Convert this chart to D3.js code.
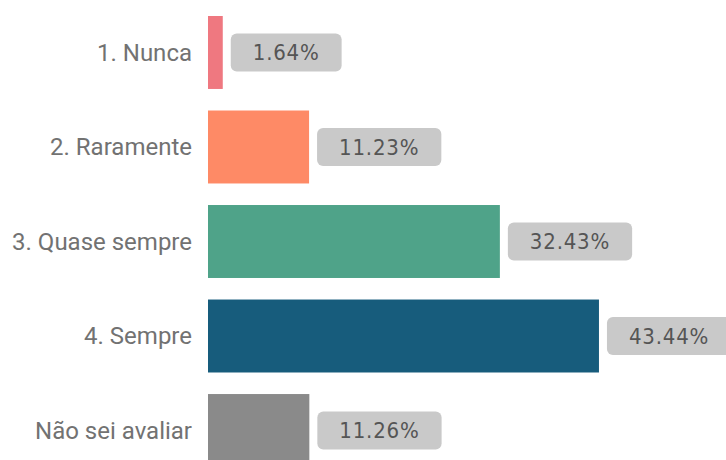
<!DOCTYPE html>
<html>
<head>
<meta charset="utf-8">
<script src="https://cdn.jsdelivr.net/npm/d3@7"></script>
<style>
  body { margin: 0; background: #fff; }
  svg { display: block; }
</style>
</head>
<body>
<svg width="726" height="460"></svg>
<script>
const categories = ['1. Nunca', '2. Raramente', '3. Quase sempre', '4. Sempre', 'Não sei avaliar'];
const values = [1.64, 11.23, 32.43, 43.44, 11.26];
const colors = ['#ef7880', '#fe8a66', '#4fa389', '#175c7c', '#8a8a8a'];

const svg = d3.select('svg');

const x = d3.scaleLinear().domain([0, 50]).range([208, 658]);
const y = d3.scaleBand().domain(categories).range([16, 467])
    .paddingInner(0.228).paddingOuter(0);

const rows = categories.map((c, i) => ({ cat: c, val: values[i], color: colors[i] }));

// category labels
svg.append('g').selectAll('text').data(rows)
    .enter().append('text')
    .attr('x', 192)
    .attr('y', d => y(d.cat) + y.bandwidth() / 2)
    .attr('dy', '0.35em')
    .attr('text-anchor', 'end')
    .attr('font-family', 'Roboto, sans-serif')
    .attr('font-size', 24)
    .attr('fill', '#727272')
    .text(d => d.cat);

// bars
svg.append('g').selectAll('rect').data(rows)
    .enter().append('rect')
    .attr('x', x(0))
    .attr('y', d => y(d.cat))
    .attr('width', d => x(d.val) - x(0))
    .attr('height', y.bandwidth())
    .attr('fill', d => d.color);

// value labels with grey boxes
const lab = svg.append('g').selectAll('g').data(rows)
    .enter().append('g')
    .attr('transform', d => `translate(${x(d.val) + 8},${y(d.cat) + y.bandwidth() / 2})`);

const txt = lab.append('text')
    .attr('x', 22)
    .attr('dy', '0.36em')
    .attr('font-family', '"DejaVu Sans Condensed", "DejaVu Sans", sans-serif')
    .attr('font-size', 22)
    .attr('letter-spacing', 0.8)
    .attr('fill', '#555')
    .text(d => d.val.toFixed(2) + '%');

lab.insert('rect', 'text')
    .attr('x', 0)
    .attr('y', -19)
    .attr('height', 38)
    .attr('rx', 6)
    .attr('fill', '#c9c9c9')
    .attr('width', function () {
        const t = this.parentNode.querySelector('text');
        return t.getComputedTextLength() + 44;
    });
</script>
</body>
</html>
